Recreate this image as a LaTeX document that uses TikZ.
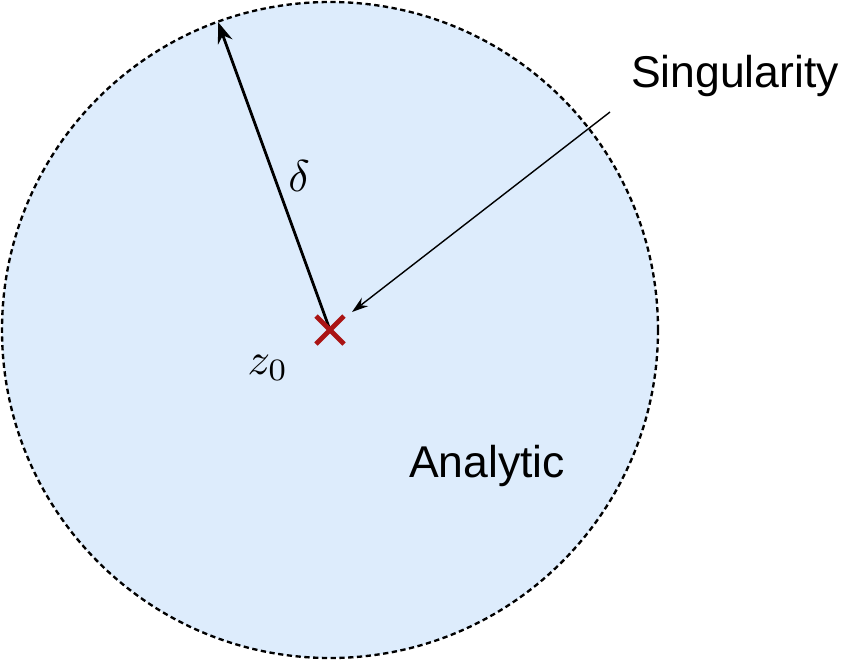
\documentclass[tikz,border=0pt]{standalone}
\usepackage{fontspec}
\setsansfont{Liberation Sans}
\usetikzlibrary{arrows.meta}
\definecolor{diskblue}{RGB}{221,236,252}
\definecolor{crossred}{RGB}{170,20,20}
\begin{document}
\begin{tikzpicture}[x=0.03cm,y=-0.03cm]
\tikzset{lbl/.style={font=\sffamily\fontsize{38}{42}\selectfont},
	mth/.style={scale=3.8}}
\useasboundingbox (0,0) rectangle (865,660);
\def\r{328}
\coordinate (z) at (330,330);
\coordinate (top) at (218,22);
\coordinate (tail) at (610,112);
\fill[diskblue] (z) circle ({\r*0.03cm});
\draw[line width=2pt,dash pattern=on 4.5pt off 3pt] (z) circle ({\r*0.03cm});
% radius
\draw[line width=2.4pt,-{Stealth[length=18pt,width=13pt]}] (z) -- (top);
\node[mth] (delta) at (299,176) {$\delta$};
\node[mth] (zlab) at (268,368) {$z_0$};
% singularity
\node[lbl] (sing) at (735,76) {Singularity};
\draw[line width=1.2pt,-{Stealth[length=14pt,width=9pt]}] (tail) -- (352,312);
\draw[crossred,line width=4pt] (316,316) -- (344,344) (316,344) -- (344,316);
\node[lbl] (ana) at (487,466) {Analytic};
\end{tikzpicture}
\end{document}
